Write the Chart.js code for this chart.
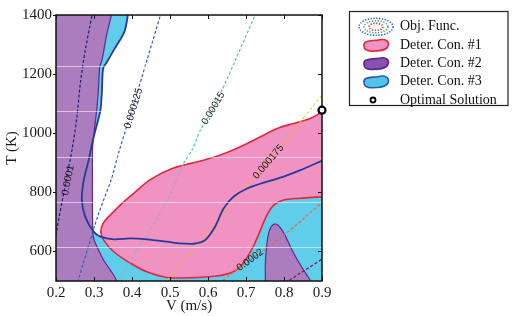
<!DOCTYPE html>
<html>
<head>
<meta charset="utf-8">
<script src="https://cdn.jsdelivr.net/npm/chart.js@4.4.1/dist/chart.umd.min.js"></script>
<style>
html,body{margin:0;padding:0;background:#fff;}
canvas{display:block;}
</style>
</head>
<body>
<canvas id="chart" width="516" height="316"></canvas>
<script>
// ---------------- data ----------------
const V_RANGE = [0.2, 0.9];
const T_RANGE = [500, 1400];
const xTickValues = [0.2, 0.3, 0.4, 0.5, 0.6, 0.7, 0.8, 0.9];
const yTickValues = [600, 800, 1000, 1200, 1400];
const xTitle = 'V (m/s)';
const yTitle = 'T (K)';
const legendLabels = ['Obj. Func.', 'Deter. Con. #1', 'Deter. Con. #2', 'Deter. Con. #3', 'Optimal Solution'];

// Deterministic constraint #1 (pink region, red border), closed loop [V, T]
const con1Boundary = [
  [0.96,1110],[0.96,790],[0.9,785],[0.843,780],[0.799,774],[0.773,757],[0.755,723],[0.738,672],
  [0.719,616],[0.693,561],[0.667,531],[0.624,517],[0.553,511],[0.492,512],[0.439,531],[0.396,560],
  [0.352,599],[0.325,639],[0.318,667],[0.324,695],[0.338,717],[0.369,757],[0.404,796],[0.448,843],
  [0.509,882],[0.58,906],[0.633,926],[0.685,954],[0.729,982],[0.782,1016],[0.825,1033],[0.869,1050],
  [0.9,1072],[0.96,1110]
];
// Deterministic constraint #2 (purple), left strip boundary (top -> bottom)
const con2Left = [
  [0.35,1460],[0.3455,1400],[0.334,1337],[0.321,1247],[0.315,1224],[0.312,1157],[0.308,1089],
  [0.300,1000],[0.296,943],[0.296,850],[0.296,750],[0.297,662],[0.300,640],[0.308,616],[0.325,571],
  [0.343,537],[0.358,505],[0.362,480]
];
// Deterministic constraint #2 (purple), right blob, closed loop
const con2Right = [
  [0.81,440],[0.875,470],[0.87,500],[0.86,520],[0.843,555],[0.825,595],[0.81,635],[0.797,668],
  [0.785,688],[0.773,692],[0.762,672],[0.755,627],[0.751,560],[0.751,500],[0.75,470],[0.81,440]
];
// Deterministic constraint #3 boundary (blue line, cyan region on its lower/left side)
const con3Boundary = [
  [0.392,1440],[0.389,1400],[0.38,1343],[0.352,1281],[0.334,1241],[0.324,1219],[0.321,1146],
  [0.317,1078],[0.306,1021],[0.295,965],[0.286,909],[0.273,841],[0.268,774],[0.277,717],[0.299,667],
  [0.317,650],[0.352,641],[0.396,644],[0.439,641],[0.492,633],[0.527,627],[0.562,626],[0.592,638],
  [0.617,680],[0.641,745],[0.667,785],[0.703,813],[0.755,836],[0.799,853],[0.843,875],[0.9,907],[0.95,935]
];
// Objective function contours
const objLevels = ['0.0001', '0.000125', '0.00015', '0.000175', '0.0002', '0.000225'];
const obj1 = [[0.195,620],[0.202,672],[0.225,830],[0.242,943],[0.255,1055],[0.264,1168],[0.277,1281],[0.295,1400],[0.3,1430]];
const obj2 = [[0.253,480],[0.258,500],[0.31,720],[0.345,842],[0.367,943],[0.405,1100],[0.44,1250],[0.475,1400],[0.48,1420]];
const obj3 = [[0.366,485],[0.37,500],[0.378,526],[0.396,571],[0.43,639],[0.474,729],[0.518,841],[0.536,898],[0.558,943],[0.58,1010],[0.614,1084],[0.672,1247],[0.724,1400],[0.735,1430]];
const obj4 = [[0.485,490],[0.492,500],[0.6,666],[0.7,820],[0.8,970],[0.852,1053],[0.9,1129],[0.92,1160]];
const obj5 = [[0.63,490],[0.637,500],[0.711,571],[0.8,655],[0.9,765],[0.92,785]];
const obj6 = [[0.805,490],[0.812,500],[0.9,574],[0.92,590]];
const objLabelAt = [[0.232,841],[0.404,1084],[0.614,1084],[0.759,903],[0.711,571],null];
const optimalSolution = [[0.9,1078]];

// ---------------- styles ----------------
const PINK = '#f093c2', RED = '#e3263b';
const PURPLE = '#ab7dbf', PURPLE_EDGE = '#5a2a8c';
const CYAN = '#60cdea', BLUE = '#28399b';
const objColors = ['#1d1d75', '#2f60c6', '#52c8a6', '#e4dc5c', '#e8683c', '#5c2345'];
const objAltColors = ['#1d1d75', '#2f60c6', '#a9a8c4', '#f4ae40', '#e8683c', '#5c2345'];
const SERIF = '"Liberation Serif", "Times New Roman", serif';
const SANS = '"Liberation Sans", Arial, sans-serif';

// closing corners placed outside the visible axis range
const outL = V_RANGE[0] - 0.1, outR = V_RANGE[1] + 0.1, outB = T_RANGE[0] - 100, outT = T_RANGE[1] + 100;
const cyanPolygon = [...con3Boundary, [outR, con3Boundary[con3Boundary.length-1][1] + 30], [outR, outB], [outL, outB], [outL, outT], [con3Boundary[0][0], outT]];
const purpleLeftPolygon = [...con2Left, [outL, outB], [outL, outT], con2Left[0]];

const toXY = arr => arr.map(([x, y]) => ({x, y}));
function inside(p, poly) {
  let c = false;
  for (let i = 0, j = poly.length - 1; i < poly.length; j = i++) {
    const [xi, yi] = poly[i], [xj, yj] = poly[j];
    if (((yi > p[1]) !== (yj > p[1])) && (p[0] < (xj - xi) * (p[1] - yi) / (yj - yi) + xi)) c = !c;
  }
  return c;
}

const objLines = [obj1, obj2, obj3, obj4, obj5, obj6];
const objDatasets = objLines.map((pts, k) => ({
  label: 'Obj ' + objLevels[k],
  data: toXY(pts),
  borderColor: objColors[k],
  borderWidth: 1.2,
  borderDash: [3, 2],
  fill: false,
  order: 6,
  tension: 0.3,
  segment: {
    borderColor: ctx => {
      const a = pts[ctx.p0DataIndex], b = pts[ctx.p1DataIndex];
      const m = [(a[0] + b[0]) / 2, (a[1] + b[1]) / 2];
      return (inside(m, con1Boundary) || inside(m, cyanPolygon)) ? objAltColors[k] : objColors[k];
    }
  }
}));

const datasets = [
  { label: 'Con3 fill', data: toXY(cyanPolygon), fill: 'shape', backgroundColor: CYAN, borderColor: 'rgba(0,0,0,0)', borderWidth: 0, order: 10, tension: 0.25 },
  { label: 'Con2 left', data: toXY(purpleLeftPolygon), fill: 'shape', backgroundColor: PURPLE, borderColor: PURPLE_EDGE, borderWidth: 1.2, order: 9 },
  { label: 'Con2 right', data: toXY(con2Right), fill: 'shape', backgroundColor: PURPLE, borderColor: PURPLE_EDGE, borderWidth: 1.2, order: 8 },
  { label: 'Con1', data: toXY(con1Boundary), fill: 'shape', backgroundColor: PINK, borderColor: RED, borderWidth: 1.6, order: 7 },
  ...objDatasets,
  { label: 'Con3 line', data: toXY(con3Boundary), fill: false, borderColor: BLUE, borderWidth: 1.8, order: 3, tension: 0.25 },
  { label: 'Optimal', data: toXY(optimalSolution), showLine: false, pointRadius: 3.5, pointBorderWidth: 2.2,
    pointBorderColor: '#000', pointBackgroundColor: '#fff', clip: false, order: 1 }
];
const OPT_INDEX = datasets.length - 1;

// ---------------- plugins ----------------
function nearestAngle(pts, px, py, xs, ys) {
  let best = 0, bd = Infinity;
  for (let i = 0; i < pts.length - 1; i++) {
    const ax = xs.getPixelForValue(pts[i][0]), ay = ys.getPixelForValue(pts[i][1]);
    const bx = xs.getPixelForValue(pts[i+1][0]), by = ys.getPixelForValue(pts[i+1][1]);
    const dx = bx - ax, dy = by - ay, L = dx*dx + dy*dy || 1;
    let t = ((px - ax) * dx + (py - ay) * dy) / L; t = Math.max(0, Math.min(1, t));
    const qx = ax + t*dx, qy = ay + t*dy, d = (qx-px)*(qx-px) + (qy-py)*(qy-py);
    if (d < bd) { bd = d; best = Math.atan2(dy, dx); }
  }
  if (best > Math.PI/2) best -= Math.PI;
  if (best < -Math.PI/2) best += Math.PI;
  return best;
}

const decorPlugin = {
  id: 'decor',
  beforeDatasetDraw(chart, args) {
    if (args.index !== OPT_INDEX) return;
    const {ctx, chartArea: a, scales: {x, y}} = chart;
    ctx.save();
    // faint white scan lines seen in the reference
    ctx.strokeStyle = 'rgba(255,255,255,0.55)';
    ctx.lineWidth = 1;
    [0.191, 0.362, 0.532, 0.702, 0.872].forEach(f => {
      const yy = Math.round(a.top + f * (a.bottom - a.top)) + 0.5;
      ctx.beginPath(); ctx.moveTo(a.left, yy); ctx.lineTo(a.right, yy); ctx.stroke();
    });
    // contour labels
    ctx.fillStyle = '#1a1a1a';
    ctx.font = '10px ' + SANS;
    ctx.textAlign = 'center';
    ctx.textBaseline = 'middle';
    objLabelAt.forEach((p, k) => {
      if (!p) return;
      const px = x.getPixelForValue(p[0]), py = y.getPixelForValue(p[1]);
      const ang = nearestAngle(objLines[k], px, py, x, y);
      ctx.save(); ctx.translate(px, py); ctx.rotate(ang);
      ctx.fillText(objLevels[k], 0, 0);
      ctx.restore();
    });
    // frame and tick marks
    ctx.strokeStyle = '#111';
    ctx.lineWidth = 1.5;
    ctx.strokeRect(a.left, a.top, a.right - a.left, a.bottom - a.top);
    ctx.lineWidth = 1;
    ctx.beginPath();
    x.ticks.forEach(t => {
      const px = Math.round(x.getPixelForValue(t.value)) + 0.5;
      ctx.moveTo(px, a.bottom); ctx.lineTo(px, a.bottom - 4);
      ctx.moveTo(px, a.top); ctx.lineTo(px, a.top + 4);
    });
    y.ticks.forEach(t => {
      const py = Math.round(y.getPixelForValue(t.value)) + 0.5;
      ctx.moveTo(a.left - 3, py); ctx.lineTo(a.left, py);
      ctx.moveTo(a.right, py); ctx.lineTo(a.right - 4, py);
    });
    ctx.stroke();
    ctx.restore();
  },
  afterDraw(chart) {
    const ctx = chart.ctx;
    const L = {left: 349.5, top: 11.5, right: 508, bottom: 105.5, iconX: 376, textX: 400, row0: 26.8, gap: 18.3};
    ctx.save();
    ctx.fillStyle = '#fff';
    ctx.fillRect(L.left, L.top, L.right - L.left, L.bottom - L.top);
    ctx.strokeStyle = '#222';
    ctx.lineWidth = 1.2;
    ctx.strokeRect(L.left, L.top, L.right - L.left, L.bottom - L.top);
    const blob = (cx, cy, fill, stroke) => {
      ctx.beginPath();
      ctx.moveTo(cx - 12, cy + 1);
      ctx.bezierCurveTo(cx - 13, cy - 5, cx - 5, cy - 4, cx + 2, cy - 5);
      ctx.bezierCurveTo(cx + 9, cy - 7, cx + 14, cy - 4, cx + 12, cy + 1);
      ctx.bezierCurveTo(cx + 10, cy + 6, cx + 2, cy + 6, cx - 4, cy + 6);
      ctx.bezierCurveTo(cx - 9, cy + 6, cx - 12, cy + 5, cx - 12, cy + 1);
      ctx.closePath();
      ctx.fillStyle = fill; ctx.fill();
      ctx.strokeStyle = stroke; ctx.lineWidth = 1.6; ctx.stroke();
    };
    legendLabels.forEach((lab, i) => {
      const cy = L.row0 + i * L.gap, cx = L.iconX;
      if (i === 0) {
        ctx.lineWidth = 1.6;
        ctx.setLineDash([1.3, 1.5]);
        [[17, 8.5, '#3a5fcf'], [12, 6, '#3cb371'], [7, 3.5, '#e0403c']].forEach(([rx, ry, c]) => {
          ctx.beginPath(); ctx.ellipse(cx, cy, rx, ry, 0, 0, Math.PI * 2);
          ctx.strokeStyle = c; ctx.stroke();
        });
        ctx.setLineDash([]);
      } else if (i === 1) blob(cx, cy, PINK, RED);
      else if (i === 2) blob(cx, cy, '#8a52b0', PURPLE_EDGE);
      else if (i === 3) blob(cx, cy, '#4fc6e6', '#2a55b8');
      else {
        ctx.beginPath(); ctx.arc(cx - 3, cy, 2.5, 0, Math.PI * 2);
        ctx.fillStyle = '#fff'; ctx.fill();
        ctx.strokeStyle = '#000'; ctx.lineWidth = 1.8; ctx.stroke();
      }
      ctx.fillStyle = '#111';
      ctx.font = '14px ' + SERIF;
      ctx.textAlign = 'left';
      ctx.textBaseline = 'middle';
      ctx.fillText(lab, L.textX, cy);
    });
    ctx.restore();
  }
};

// ---------------- chart ----------------
Chart.defaults.font.family = SERIF;
new Chart(document.getElementById('chart'), {
  type: 'line',
  data: { datasets },
  options: {
    responsive: false,
    devicePixelRatio: 1,
    animation: false,
    events: [],
    layout: { padding: { left: 0, right: 194, top: 15, bottom: 0 } },
    elements: {
      point: { radius: 0, hitRadius: 0 },
      line: { tension: 0.3, capBezierPoints: false }
    },
    plugins: { legend: { display: false }, tooltip: { enabled: false } },
    scales: {
      x: {
        type: 'linear', min: V_RANGE[0], max: V_RANGE[1],
        afterBuildTicks: s => { s.ticks = xTickValues.map(v => ({value: v})); },
        afterFit: s => { s.height = 35; },
        ticks: { font: { size: 15, family: SERIF }, color: '#1a1a1a', padding: 3, maxRotation: 0, autoSkip: false,
                 callback: v => Number(v).toFixed(1) },
        grid: { display: false, drawTicks: false },
        border: { display: false },
        title: { display: true, text: xTitle, font: { size: 15, family: SERIF }, color: '#1a1a1a', padding: { top: 0, bottom: 1 } }
      },
      y: {
        type: 'linear', min: T_RANGE[0], max: T_RANGE[1],
        afterBuildTicks: s => { s.ticks = yTickValues.map(v => ({value: v})); },
        afterFit: s => { s.width = 56; },
        ticks: { font: { size: 15, family: SERIF }, color: '#1a1a1a', padding: 4, autoSkip: false,
                 callback: v => String(v) },
        grid: { display: false, drawTicks: false },
        border: { display: false },
        title: { display: true, text: yTitle, font: { size: 15, family: SERIF }, color: '#1a1a1a', padding: { top: 3, bottom: 0 } }
      }
    }
  },
  plugins: [decorPlugin]
});
</script>
</body>
</html>
